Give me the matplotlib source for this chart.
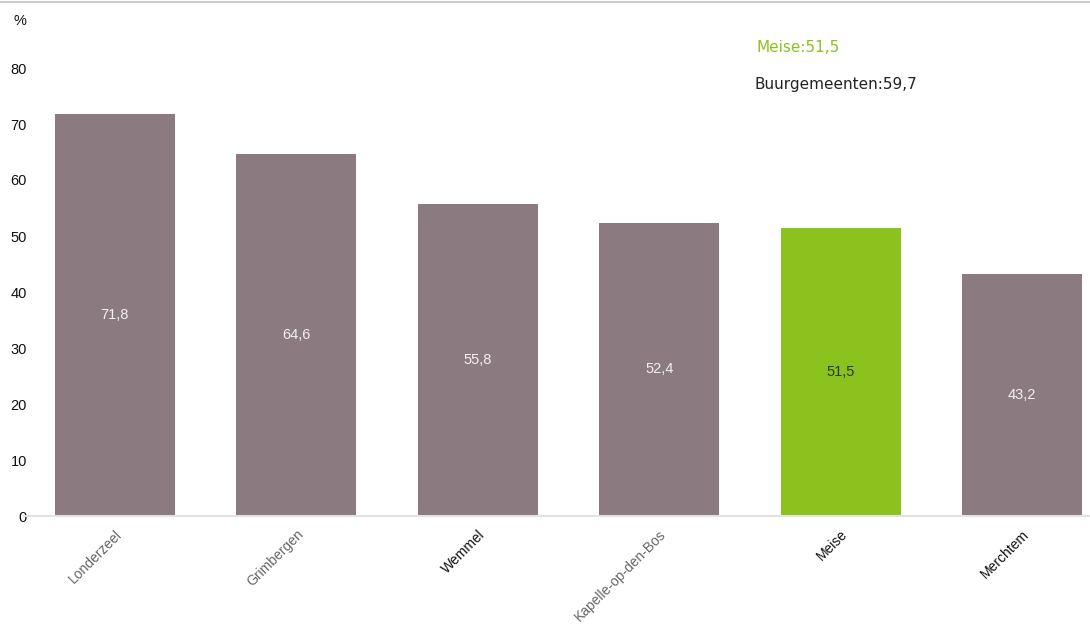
import matplotlib
matplotlib.use("Agg")
import matplotlib.pyplot as plt

categories = ["Londerzeel", "Grimbergen", "Wemmel", "Kapelle-op-den-Bos", "Meise", "Merchtem"]
values = [71.8, 64.6, 55.8, 52.4, 51.5, 43.2]
labels = ["71,8", "64,6", "55,8", "52,4", "51,5", "43,2"]
yticks = [0, 10, 20, 30, 40, 50, 60, 70, 80]
highlight = "Meise"

plt.rcParams['font.family'] = ['Liberation Sans', 'DejaVu Sans']

W, H = 1090, 638
fig = plt.figure(figsize=(W / 100, H / 100), dpi=100)
ax = fig.add_axes([24 / W, (H - 516) / H, 1089 / W, 448 / H])

grey = "#8b7a7f"
green = "#8cc21e"
colors = [green if c == highlight else grey for c in categories]
x = list(range(len(categories)))
bars = ax.bar(x, values, width=0.66, color=colors, zorder=2)

for xi, v, lab, c in zip(x, values, labels, categories):
    col = "#2a3a10" if c == highlight else "#f4f0f0"
    ax.text(xi, v / 2, lab, ha="center", va="center", fontsize=10.5, color=col, zorder=3)

ax.set_xlim(-0.5, 5.5)
ax.set_ylim(0, 80)
ax.set_yticks(yticks)
ax.set_yticklabels([str(t) for t in yticks], fontsize=10.5, color="#111111")
ax.tick_params(axis="y", length=0, pad=-2)
ax.set_xticks(x)
ax.set_xticklabels(categories, rotation=45, ha="right", rotation_mode="anchor",
                   fontsize=10, color="#333333")
label_cols = ["#666666", "#666666", "#111111", "#666666", "#111111", "#111111"]
for t, c in zip(ax.get_xticklabels(), label_cols):
    t.set_color(c)
ax.tick_params(axis="x", length=0, pad=8)
for s in ["top", "right", "left"]:
    ax.spines[s].set_visible(False)
ax.spines["bottom"].set_color("#e2e2e2")
ax.spines["bottom"].set_linewidth(1.5)

fig.text(20 / W, 1 - 21 / H, "%", fontsize=10.5, ha="center", va="center", color="#111111")
fig.text(757 / W, 1 - 48 / H, "Meise:51,5", fontsize=11, color=green, ha="left", va="center",
         family="DejaVu Sans")
fig.text(755 / W, 1 - 85 / H, "Buurgemeenten:59,7", fontsize=11, color="#222222", ha="left", va="center",
         family="DejaVu Sans")

fig.add_artist(plt.Line2D([0, 1], [1 - 2 / H, 1 - 2 / H], color="#cccccc", lw=1.5, transform=fig.transFigure))

fig.savefig("out.png", dpi=100)
